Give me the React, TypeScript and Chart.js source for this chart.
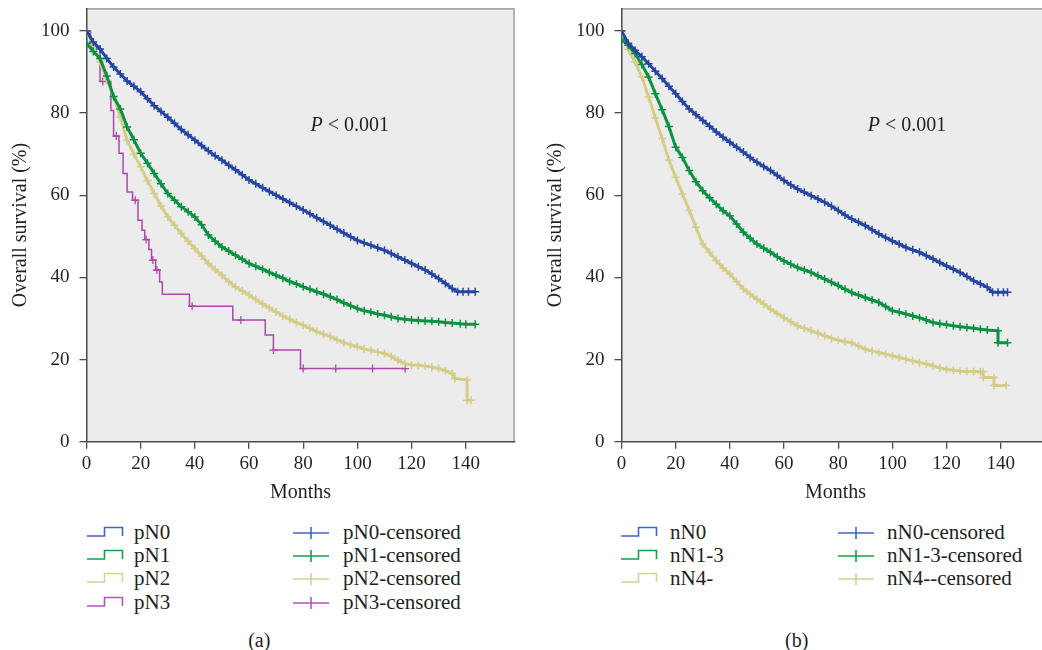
import React, { useEffect, useRef } from "react";
import { Chart, registerables } from "chart.js";
Chart.register(...registerables);

const FONT = "'Liberation Serif', 'Times New Roman', serif";
const TEXT_COLOR = "#231f20";
const AXIS_COLOR = "#4a4a4a";

const xTicks = [0, 20, 40, 60, 80, 100, 120, 140];
const yTicks = [0, 20, 40, 60, 80, 100];
const xMax = 158;
const yMax = 105.5;

const xTitle = "Months";
const yTitle = "Overall survival (%)";
const pItalic = "P";
const pRest = " < 0.001";
const captionA = "(a)";
const captionB = "(b)";

// ---------- Panel (a) ----------
const gridA = [0, 2.5, 5, 7.5, 10, 12.5, 15, 17.5, 20, 22.5, 25, 27.5, 30, 32.5, 35, 37.5, 40, 42.5, 45, 47.5, 50, 52.5, 55, 57.5, 60, 62.5, 65, 67.5, 70, 72.5, 75, 77.5, 80, 82.5, 85, 87.5, 90, 92.5, 95, 97.5, 100, 102.5, 105, 107.5, 110, 112.5, 115, 117.5, 120, 122.5, 125, 127.5, 130, 132.5, 135];

const pN0Months = [...gridA, 137, 139, 141, 143.5];
const pN0Values = [100, 97.3, 95.6, 93.3, 91.2, 89.5, 87.8, 86.5, 85.2, 83.5, 81.8, 80.4, 79, 77.5, 76, 74.7, 73.4, 72.1, 70.8, 69.6, 68.5, 67.3, 66.2, 65, 63.7, 62.8, 61.8, 60.9, 60, 59.1, 58.2, 57.3, 56.4, 55.5, 54.5, 53.6, 52.7, 51.7, 50.8, 49.9, 49, 48.4, 47.8, 47.2, 46.6, 45.8, 45, 44.2, 43.4, 42.6, 41.8, 40.8, 39.7, 38.5, 37.3, 36.5, 36.5, 36.5, 36.5];

const pN1Months = [...gridA, 138, 140, 143.5];
const pN1Values = [97, 95, 93.3, 89, 84, 81, 76.6, 73.5, 70.2, 67.8, 65.3, 62.8, 60.4, 58.8, 57.2, 56, 54.7, 52.8, 50.3, 48.8, 47.4, 46.4, 45.4, 44.4, 43.4, 42.7, 42, 41.2, 40.5, 39.8, 39, 38.4, 37.7, 37.1, 36.5, 35.9, 35.3, 34.6, 33.8, 33.1, 32.4, 31.9, 31.5, 31.1, 30.8, 30.4, 30, 29.8, 29.6, 29.5, 29.4, 29.3, 29.2, 29, 28.9, 28.7, 28.6, 28.6];

const pN2Months = [...gridA, 136, 140.5, 140.5, 142];
const pN2Values = [100, 96.5, 92.5, 88, 84, 79, 73.4, 70, 66.9, 63.5, 60.4, 57.4, 54.7, 52.7, 50.7, 48.8, 47, 45.2, 43.4, 41.9, 40.5, 39, 37.7, 36.7, 35.7, 34.6, 33.5, 32.5, 31.6, 30.6, 29.8, 29, 28.4, 27.6, 26.8, 26.2, 25.6, 24.8, 24.1, 23.6, 23.1, 22.6, 22.2, 21.8, 21.5, 20.8, 19.8, 19, 18.7, 18.6, 18.4, 18.1, 17.8, 17.3, 16.6, 15.4, 15, 10.1, 10.1];

const pN3Months = [0, 1.5, 5, 9, 10, 12, 13.5, 15, 17, 19, 20.5, 21.5, 23, 24, 25.5, 27, 28, 38, 54, 66, 69, 79, 118];
const pN3Values = [100, 96, 87.7, 80.6, 74.4, 70.2, 65.3, 60.8, 58.8, 53.9, 51.5, 49.2, 46.8, 44.2, 41.8, 38.9, 35.9, 33, 29.6, 26, 22.3, 17.8, 17.8];
const pN3CensorMonths = [3, 6, 11, 18, 22, 24.5, 26, 39, 57, 69, 80, 92, 105.6, 117.6];
const pN3CensorValues = [96, 87.7, 74.4, 58.8, 49.2, 44.2, 41.8, 33, 29.6, 22.3, 17.8, 17.8, 17.8, 17.8];

// ---------- Panel (b) ----------
const gridB = [0, 2.5, 5, 7.5, 10, 12.5, 15, 17.5, 20, 22.5, 25, 27.5, 30, 32.5, 35, 37.5, 40, 42.5, 45, 47.5, 50, 52.5, 55, 57.5, 60, 62.5, 65, 67.5, 70, 72.5, 75, 77.5, 80, 82.5, 85, 87.5, 90, 92.5, 95, 97.5, 100, 102.5, 105, 107.5, 110, 112.5, 115, 117.5, 120, 122.5, 125, 127.5, 130, 132.5, 135];

const nN0Months = [...gridB, 137, 139, 141, 142.5];
const nN0Values = [100, 97, 95.3, 93.7, 92, 90.2, 88.4, 86.5, 84.7, 82.8, 81, 79.6, 78.2, 76.8, 75.4, 74.1, 72.9, 71.7, 70.5, 69.2, 68, 67, 66, 64.8, 63.6, 62.5, 61.5, 60.7, 59.9, 59.1, 58.3, 57.3, 56.3, 55.2, 54.2, 53.4, 52.6, 51.6, 50.6, 49.7, 48.9, 48.1, 47.3, 46.7, 46.1, 45.3, 44.5, 43.6, 42.8, 42, 41.2, 40.2, 39.2, 38.4, 37.6, 36.4, 36.4, 36.4, 36.4];

const nN13Months = [...gridB, 139, 139, 142.5];
const nN13Values = [98, 96.5, 94.5, 91.8, 88.8, 84.7, 80.8, 76.7, 71.7, 69.2, 66, 63.3, 61.1, 59.4, 57.8, 56.2, 55, 53, 51, 49.5, 48.1, 47.1, 46.1, 45, 44, 43.2, 42.4, 41.8, 41.2, 40.4, 39.6, 38.8, 38, 37.1, 36.3, 35.7, 35.1, 34.5, 33.9, 32.9, 31.9, 31.5, 31.1, 30.6, 30.2, 29.6, 29, 28.7, 28.5, 28.2, 28, 27.8, 27.6, 27.4, 27.2, 27, 24.1, 24.1];

const nN4Months = [...gridB.slice(0, 54), 133.5, 133.5, 137.5, 137.5, 142];
const nN4Values = [100, 95.5, 92.4, 88.8, 83.9, 78.8, 73.8, 68.6, 64.4, 60.3, 56.3, 52.2, 48.1, 46.1, 44.1, 42.3, 40.8, 39, 37.2, 35.9, 34.7, 33.5, 32.3, 31.2, 30.2, 29.2, 28.2, 27.6, 27, 26.4, 25.8, 25.2, 24.7, 24.4, 24.1, 23.3, 22.5, 22.1, 21.7, 21.3, 20.9, 20.5, 20.1, 19.7, 19.3, 18.9, 18.5, 18, 17.6, 17.4, 17.2, 17.1, 17.1, 17, 17, 15.6, 15.6, 13.7, 13.7];

const labelsA = ["pN0", "pN1", "pN2", "pN3"];
const censoredLabelsA = ["pN0-censored", "pN1-censored", "pN2-censored", "pN3-censored"];
const labelsB = ["nN0", "nN1-3", "nN4-"];
const censoredLabelsB = ["nN0-censored", "nN1-3-censored", "nN4--censored"];

const COLORS = ["#2446a0", "#0b9142", "#d4cd88", "#ad48ab"];
const LEGEND_COLORS = ["#3f66c2", "#12a04c", "#d6d09a", "#b257b3"];

type Series = {
  color: string;
  months: number[];
  values: number[];
  stepped?: boolean;
  censorMonths?: number[];
  censorValues?: number[];
};

const seriesA: Series[] = [
  { color: COLORS[0], months: pN0Months, values: pN0Values },
  { color: COLORS[1], months: pN1Months, values: pN1Values },
  { color: COLORS[2], months: pN2Months, values: pN2Values },
  { color: COLORS[3], months: pN3Months, values: pN3Values, stepped: true, censorMonths: pN3CensorMonths, censorValues: pN3CensorValues },
];
const seriesB: Series[] = [
  { color: COLORS[0], months: nN0Months, values: nN0Values },
  { color: COLORS[1], months: nN13Months, values: nN13Values },
  { color: COLORS[2], months: nN4Months, values: nN4Values },
];

const CANVAS_W = 520;
const CANVAS_H = 510;

function KMPanel({ series, left, pMonth, pValue }: { series: Series[]; left: number; pMonth: number; pValue: number }) {
  const ref = useRef<HTMLCanvasElement | null>(null);
  useEffect(() => {
    if (!ref.current) return;
    const datasets: any[] = [];
    series.forEach((s) => {
      const pts = s.months.map((m, i) => ({ x: m, y: s.values[i] }));
      const hasSeparateCensor = !!s.censorMonths;
      datasets.push({
        type: "line",
        data: pts,
        stepped: !!s.stepped,
        tension: 0,
        borderColor: s.color,
        backgroundColor: s.color,
        borderWidth: hasSeparateCensor ? 1.5 : 3,
        fill: false,
        pointStyle: "cross",
        pointRadius: hasSeparateCensor ? 0 : 4,
        pointBorderWidth: 1.5,
        pointBorderColor: s.color,
        pointHoverRadius: 0,
      });
      if (s.censorMonths && s.censorValues) {
        const cv = s.censorValues;
        datasets.push({
          type: "scatter",
          data: s.censorMonths.map((m, i) => ({ x: m, y: cv[i] })),
          showLine: false,
          pointStyle: "cross",
          pointRadius: 4,
          pointBorderWidth: 1.3,
          borderColor: s.color,
          backgroundColor: s.color,
          pointBorderColor: s.color,
        });
      }
    });

    const bgPlugin = {
      id: "plotBg",
      beforeDraw(chart: any) {
        const { ctx, chartArea } = chart;
        ctx.save();
        ctx.fillStyle = "#ececec";
        ctx.fillRect(chartArea.left, chartArea.top, chartArea.right - chartArea.left, chartArea.bottom - chartArea.top);
        ctx.strokeStyle = "#8c8c8c";
        ctx.lineWidth = 1.2;
        ctx.beginPath();
        ctx.moveTo(chartArea.left, chartArea.top + 0.5);
        ctx.lineTo(chartArea.right - 0.5, chartArea.top + 0.5);
        ctx.lineTo(chartArea.right - 0.5, chartArea.bottom);
        ctx.stroke();
        ctx.restore();
      },
    };
    const pPlugin = {
      id: "pText",
      afterDatasetsDraw(chart: any) {
        const { ctx } = chart;
        const x = chart.scales.x.getPixelForValue(pMonth);
        const y = chart.scales.y.getPixelForValue(pValue);
        ctx.save();
        ctx.fillStyle = TEXT_COLOR;
        ctx.textBaseline = "middle";
        ctx.textAlign = "left";
        ctx.font = `italic 20px ${FONT}`;
        ctx.fillText(pItalic, x, y);
        const w = ctx.measureText(pItalic).width;
        ctx.font = `20px ${FONT}`;
        ctx.fillText(pRest, x + w, y);
        ctx.restore();
      },
    };

    const chart = new Chart(ref.current, {
      type: "line",
      data: { datasets },
      plugins: [bgPlugin, pPlugin],
      options: {
        animation: false,
        responsive: false,
        maintainAspectRatio: false,
        events: [],
        layout: { padding: { top: 8.3, right: 4, left: 0, bottom: 0 } },
        plugins: { legend: { display: false }, tooltip: { enabled: false } },
        scales: {
          x: {
            type: "linear",
            min: 0,
            max: xMax,
            afterBuildTicks: (s: any) => {
              s.ticks = xTicks.map((v) => ({ value: v }));
            },
            afterFit: (s: any) => {
              s.height = CANVAS_H - 441.7;
              s.paddingLeft = 0;
              s.paddingRight = 0;
            },
            grid: { drawOnChartArea: false, drawTicks: true, tickLength: 7, color: AXIS_COLOR, lineWidth: 1.3 },
            border: { display: true, color: AXIS_COLOR, width: 1.5 },
            ticks: { font: { family: FONT, size: 19 }, color: TEXT_COLOR, padding: 4, maxRotation: 0, autoSkip: false },
            title: { display: true, text: xTitle, font: { family: FONT, size: 20 }, color: TEXT_COLOR, padding: { top: 0, bottom: 5 } },
          },
          y: {
            type: "linear",
            min: 0,
            max: yMax,
            afterBuildTicks: (s: any) => {
              s.ticks = yTicks.map((v) => ({ value: v }));
            },
            afterFit: (s: any) => {
              s.width = 86.5;
              s.paddingTop = 0;
              s.paddingBottom = 0;
            },
            grid: { drawOnChartArea: false, drawTicks: true, tickLength: 7, color: AXIS_COLOR, lineWidth: 1.3 },
            border: { display: true, color: AXIS_COLOR, width: 1.5 },
            ticks: { font: { family: FONT, size: 19 }, color: TEXT_COLOR, padding: 10 },
            title: { display: true, text: yTitle, font: { family: FONT, size: 20 }, color: TEXT_COLOR, padding: { top: 9, bottom: 0 } },
          },
        },
      } as any,
    });
    return () => chart.destroy();
  }, [series, left, pMonth, pValue]);
  return (
    <canvas
      ref={ref}
      width={CANVAS_W}
      height={CANVAS_H}
      style={{ position: "absolute", left, top: 0, width: CANVAS_W, height: CANVAS_H }}
    />
  );
}

function StepIcon({ color }: { color: string }) {
  return (
    <svg width={37} height={12} style={{ display: "block" }}>
      <path d="M0 10 H17.5 V1.5 H35.5 V10" fill="none" stroke={color} strokeWidth={1.6} />
    </svg>
  );
}
function CensorIcon({ color }: { color: string }) {
  return (
    <svg width={37} height={14} style={{ display: "block" }}>
      <path d="M0 7 H36 M18 1 V13" fill="none" stroke={color} strokeWidth={1.6} />
    </svg>
  );
}

function LegendRow({ x, textX, y, children, icon }: any) {
  return (
    <>
      <div style={{ position: "absolute", left: x, top: y - 6 }}>{icon}</div>
      <div
        style={{
          position: "absolute",
          left: textX,
          top: y - 13,
          height: 26,
          lineHeight: "26px",
          fontFamily: FONT,
          fontSize: 21,
          color: TEXT_COLOR,
          whiteSpace: "nowrap",
        }}
      >
        {children}
      </div>
    </>
  );
}

export default function App() {
  const rowsY = [531.7, 555, 578.3, 601.7];
  return (
    <div
      style={{
        position: "fixed",
        left: 0,
        top: 0,
        width: 1042,
        height: 650,
        overflow: "hidden",
        background: "#ffffff",
      }}
    >
      <KMPanel series={seriesA} left={0} pMonth={82.7} pValue={77} />
      <KMPanel series={seriesB} left={535} pMonth={90.9} pValue={77} />

      {labelsA.map((l, i) => (
        <LegendRow key={"a" + l} x={87} textX={134} y={rowsY[i]} icon={<StepIcon color={LEGEND_COLORS[i]} />}>
          {l}
        </LegendRow>
      ))}
      {censoredLabelsA.map((l, i) => (
        <LegendRow key={"ac" + l} x={293} textX={343} y={rowsY[i]} icon={<CensorIcon color={LEGEND_COLORS[i]} />}>
          {l}
        </LegendRow>
      ))}
      {labelsB.map((l, i) => (
        <LegendRow key={"b" + l} x={621} textX={670} y={rowsY[i]} icon={<StepIcon color={LEGEND_COLORS[i]} />}>
          {l}
        </LegendRow>
      ))}
      {censoredLabelsB.map((l, i) => (
        <LegendRow key={"bc" + l} x={838} textX={887} y={rowsY[i]} icon={<CensorIcon color={LEGEND_COLORS[i]} />}>
          {l}
        </LegendRow>
      ))}

      <div style={{ position: "absolute", left: 259.3 - 40, width: 80, top: 626, height: 28, lineHeight: "28px", textAlign: "center", fontFamily: FONT, fontSize: 20, color: TEXT_COLOR }}>
        {captionA}
      </div>
      <div style={{ position: "absolute", left: 796.7 - 40, width: 80, top: 626, height: 28, lineHeight: "28px", textAlign: "center", fontFamily: FONT, fontSize: 20, color: TEXT_COLOR }}>
        {captionB}
      </div>
    </div>
  );
}
